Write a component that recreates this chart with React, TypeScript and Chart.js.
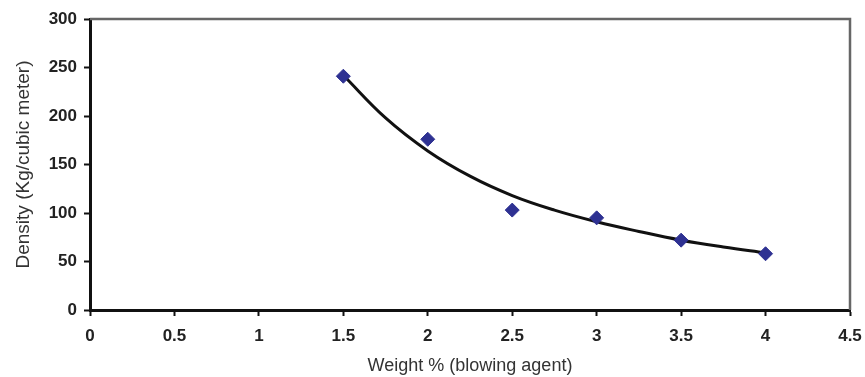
import React, { useEffect, useRef } from "react";
import { Chart, registerables } from "chart.js";

Chart.register(...registerables);

const weightPct = [1.5, 2, 2.5, 3, 3.5, 4];
const density = [241, 176, 103, 95, 72, 58];

const trendX = [1.5, 1.75, 2, 2.25, 2.5, 2.75, 3, 3.25, 3.5, 3.75, 4];
const trendY = [242, 198, 164, 138, 118, 103, 91, 81, 72, 65, 59];

const xTitle = "Weight % (blowing agent)";
const yTitle = "Density (Kg/cubic meter)";

const framePlugin = {
  id: "frame",
  afterDatasetsDraw(chart: any) {
    const { ctx, chartArea } = chart;
    ctx.save();
    ctx.strokeStyle = "#666";
    ctx.lineWidth = 2.5;
    ctx.beginPath();
    ctx.moveTo(chartArea.left, chartArea.top);
    ctx.lineTo(chartArea.right, chartArea.top);
    ctx.lineTo(chartArea.right, chartArea.bottom);
    ctx.stroke();
    ctx.restore();
  },
};

export default function App() {
  const ref = useRef<HTMLCanvasElement>(null);
  useEffect(() => {
    const chart = new Chart(ref.current!, {
      type: "scatter",
      data: {
        datasets: [
          {
            type: "line",
            data: trendX.map((x, i) => ({ x, y: trendY[i] })),
            borderColor: "#111",
            borderWidth: 3,
            pointRadius: 0,
            tension: 0.4,
            fill: false,
            order: 2,
          } as any,
          {
            data: weightPct.map((x, i) => ({ x, y: density[i] })),
            backgroundColor: "#2E3192",
            borderColor: "#2E3192",
            pointStyle: "rectRot",
            pointRadius: 7,
            order: 1,
          },
        ],
      },
      options: {
        responsive: false,
        animation: false,
        layout: { padding: { top: 19, right: 15, left: 0, bottom: 0 } },
        plugins: { legend: { display: false }, tooltip: { enabled: false } },
        scales: {
          x: {
            type: "linear",
            min: 0,
            max: 4.5,
            afterFit: (s: any) => { s.height = 67; s.paddingRight = 0; s.paddingLeft = 0; },
            ticks: {
              stepSize: 0.5,
              padding: 10,
              color: "#222",
              font: { family: "Liberation Sans, Arial", size: 17, weight: "bold" },
              maxRotation: 0,
              callback: (v: any) => String(Math.round(Number(v) * 10) / 10),
            },
            grid: { drawOnChartArea: false, drawTicks: true, tickLength: 6, tickColor: "#111", tickWidth: 2 },
            border: { display: true, color: "#111", width: 3 },
            title: {
              display: true,
              text: xTitle,
              color: "#333",
              font: { family: "Liberation Sans, Arial", size: 18 },
              padding: { top: 0, bottom: 0 },
            },
          },
          y: {
            type: "linear",
            min: 0,
            max: 300,
            afterFit: (s: any) => { s.width = 90; s.paddingTop = 0; s.paddingBottom = 0; },
            ticks: {
              stepSize: 50,
              padding: 7,
              color: "#222",
              font: { family: "Liberation Sans, Arial", size: 17, weight: "bold" },
            },
            grid: { drawOnChartArea: false, drawTicks: true, tickLength: 6, tickColor: "#111", tickWidth: 2 },
            border: { display: true, color: "#111", width: 3 },
            title: {
              display: true,
              text: yTitle,
              color: "#333",
              font: { family: "Liberation Sans, Arial", size: 19 },
              padding: { top: 12, bottom: 0 },
            },
          },
        },
      },
      plugins: [framePlugin],
    });
    return () => chart.destroy();
  }, []);
  return (
    <div style={{ position: "absolute", left: 0, top: 0, width: 865, height: 377, background: "#fff" }}>
      <canvas ref={ref} width={865} height={377} />
    </div>
  );
}
